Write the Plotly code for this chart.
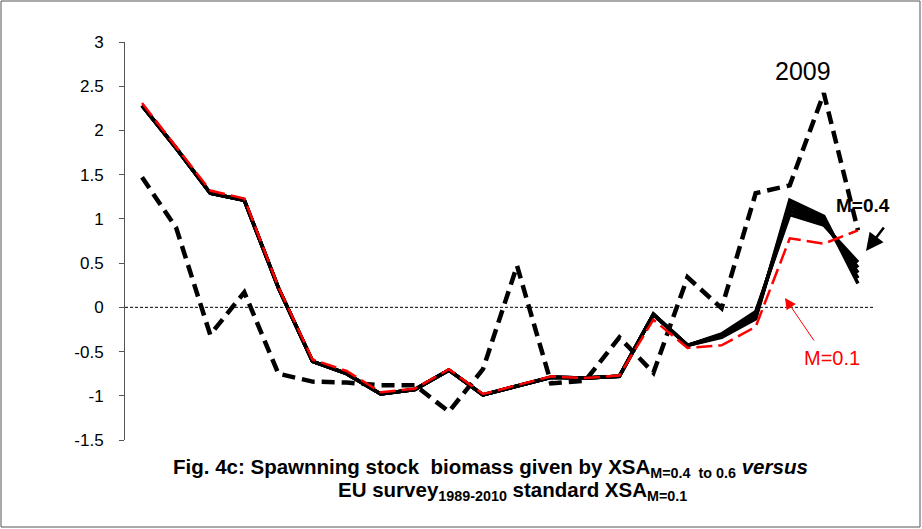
import plotly.graph_objects as go

years = [str(y) for y in range(1989, 2011)]

# XSA M=0.1 (standard) - red dashed
xsa_m01 = [2.31, 1.82, 1.32, 1.23, 0.23, -0.59, -0.72, -0.96, -0.92, -0.70,
           -0.98, -0.88, -0.78, -0.80, -0.77, -0.14, -0.46, -0.43, -0.22, 0.78,
           0.72, 0.87]

# XSA M=0.4 to 0.6 bundle (solid black)
xsa_common = [2.28, 1.80, 1.29, 1.21, 0.22, -0.61, -0.75, -0.98, -0.93, -0.71,
              -0.99, -0.89, -0.79, -0.80, -0.78, -0.08, -0.43]
xsa_m04 = xsa_common + [-0.30, -0.05, 1.05, 0.93, 0.51]
xsa_m045 = xsa_common + [-0.31, -0.07, 1.09, 0.95, 0.45]
xsa_m05 = xsa_common + [-0.32, -0.09, 1.13, 0.97, 0.39]
xsa_m055 = xsa_common + [-0.33, -0.11, 1.17, 1.00, 0.33]
xsa_m06 = xsa_common + [-0.34, -0.13, 1.21, 1.03, 0.27]
bundle = [xsa_m04, xsa_m045, xsa_m05, xsa_m055, xsa_m06]

# EU survey 1989-2010 - black dashed
eu_survey = [1.47, 0.90, -0.31, 0.17, -0.75, -0.84, -0.85, -0.88, -0.88, -1.18,
             -0.70, 0.47, -0.86, -0.83, -0.34, -0.74, 0.34, -0.01, 1.29, 1.38,
             2.42, 0.87]

y_ticks = [3, 2.5, 2, 1.5, 1, 0.5, 0, -0.5, -1, -1.5]
y_tick_text = ["3", "2.5", "2", "1.5", "1", "0.5", "0", "-0.5", "-1", "-1.5"]

fig = go.Figure()

fig.add_trace(go.Scatter(x=years, y=eu_survey, mode="lines",
                         line=dict(color="black", width=4.5, dash="13px,7px"),
                         showlegend=False))
for s in bundle:
    fig.add_trace(go.Scatter(x=years, y=s, mode="lines",
                             line=dict(color="black", width=3.5),
                             showlegend=False))
fig.add_trace(go.Scatter(x=years, y=xsa_m01, mode="lines",
                         line=dict(color="#ff0000", width=2.5, dash="16px,6px"),
                         showlegend=False))

# zero reference line
fig.add_shape(type="line", xref="paper", yref="y", x0=0, x1=1, y0=0, y1=0,
              line=dict(color="black", width=1, dash="3px,2px"))

# outer frame
W, H = 922, 529
ml, mr, mt, mb = 125, 47, 42, 89
pw, ph = W - ml - mr, H - mt - mb
def px(x):
    return (x - ml) / pw
def py(y):
    return (H - mb - y) / ph
fig.add_shape(type="rect", xref="paper", yref="paper",
              x0=px(1), x1=px(920), y0=py(527), y1=py(1),
              line=dict(color="#555555", width=1))

fig.add_annotation(xref="paper", yref="paper", x=px(803), y=py(71),
                   xanchor="center", yanchor="middle",
                   text="2009", showarrow=False,
                   font=dict(family="Liberation Sans, Arial", size=25, color="black"))
fig.add_annotation(xref="paper", yref="paper", x=px(863), y=py(205),
                   xanchor="center", yanchor="middle",
                   text="<b>M=0.4</b>", showarrow=False,
                   font=dict(family="Liberation Sans, Arial", size=19, color="black"))
fig.add_annotation(xref="paper", yref="paper", x=px(866), y=py(251),
                   ax=19, ay=-25,
                   text="", showarrow=True, arrowhead=2, arrowsize=1.4,
                   arrowwidth=2.5, arrowcolor="black")
fig.add_annotation(xref="paper", yref="paper", x=px(832), y=py(358),
                   xanchor="center", yanchor="middle",
                   text="M=0.1", showarrow=False,
                   font=dict(family="Liberation Sans, Arial", size=20, color="#ff0000"))
fig.add_annotation(xref="paper", yref="paper", x=px(785), y=py(298),
                   ax=30, ay=44,
                   text="", showarrow=True, arrowhead=2, arrowsize=2.2,
                   arrowwidth=1, arrowcolor="#ff0000")

title_font = dict(family="Liberation Sans Narrow, Arial Narrow, Liberation Sans", size=20.5,
                  color="black")
fig.add_annotation(xref="paper", yref="paper", x=px(490), y=py(468),
                   xanchor="center", yanchor="middle",
                   text=("<b>Fig. 4c: Spawnning stock  biomass given by XSA<sub>M=0.4  to 0.6</sub> "
                         "<i>versus</i></b>"),
                   showarrow=False, font=title_font)
fig.add_annotation(xref="paper", yref="paper", x=px(512), y=py(491),
                   xanchor="center", yanchor="middle",
                   text="<b>EU survey<sub>1989-2010</sub> standard XSA<sub>M=0.1</sub></b>",
                   showarrow=False, font=title_font)

fig.update_layout(
    width=W, height=H,
    margin=dict(l=ml, r=mr, t=mt, b=mb),
    paper_bgcolor="white", plot_bgcolor="white",
    font=dict(family="Liberation Sans, Arial", size=16, color="black"),
    xaxis=dict(type="category", range=[-0.5, 21.5], showticklabels=False,
               showline=False, showgrid=False, zeroline=False, ticks=""),
    yaxis=dict(range=[-1.5, 3], tickvals=y_ticks, ticktext=y_tick_text,
               showline=True, linecolor="#555555", linewidth=1,
               ticks="outside", ticklen=5, tickcolor="#555555",
               showgrid=False, zeroline=False, ticklabelstandoff=12,
               tickfont=dict(size=17)),
)

fig.write_html("out.html")
